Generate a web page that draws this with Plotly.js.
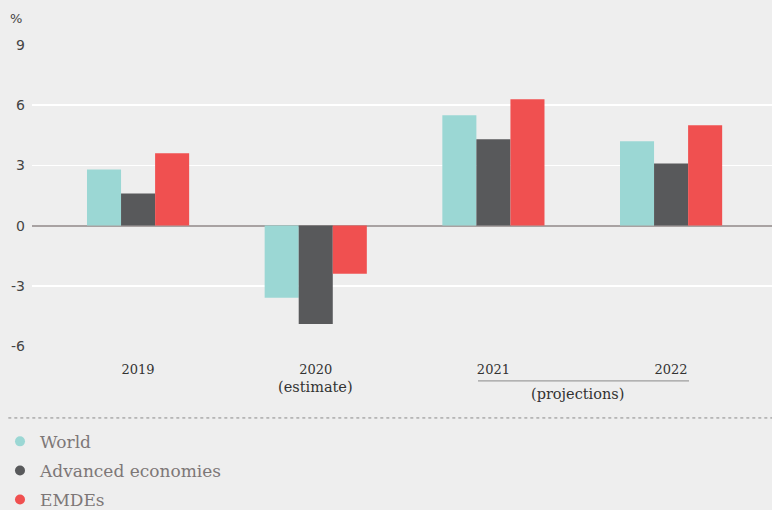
<!DOCTYPE html>
<html>
<head>
<meta charset="utf-8">
<script src="https://cdn.plot.ly/plotly-3.0.1.min.js"></script>
<style>
html,body{margin:0;padding:0;background:#eeeeee;}
#chart{width:772px;height:510px;}
</style>
</head>
<body>
<div id="chart"></div>
<script>
// Data
const categories = ["2019", "2020", "2021", "2022"];
const seriesNames = ["World", "Advanced economies", "EMDEs"];
const world = [2.8, -3.6, 5.5, 4.2];
const advanced = [1.6, -4.9, 4.3, 3.1];
const emdes = [3.6, -2.4, 6.3, 5.0];
const yTicks = [-6, -3, 0, 3, 6, 9];
const yTickText = ["-6", "-3", "0", "3", "6", "9"];
const colors = ["#9bd7d4", "#58595b", "#f05050"];
const values = [world, advanced, emdes];

const serif = "DejaVu Serif, Liberation Serif, serif";

const traces = values.map((v, i) => ({
  type: "bar",
  x: [0, 1, 2, 3],
  y: v,
  name: seriesNames[i],
  marker: {color: colors[i]},
  showlegend: false,
  hoverinfo: "y"
}));

seriesNames.forEach((n, i) => {
  traces.push({
    type: "scatter",
    mode: "markers",
    x: [null],
    y: [null],
    name: n,
    legendgroup: "g" + i,
    marker: {color: colors[i], size: 10, symbol: "circle"},
    showlegend: true
  });
});

const layout = {
  width: 772,
  height: 510,
  paper_bgcolor: "#eeeeee",
  plot_bgcolor: "#eeeeee",
  margin: {l: 32, r: 0, t: 45, b: 164, autoexpand: false},
  barmode: "group",
  bargap: 0.425,
  bargroupgap: 0,
  showlegend: true,
  legend: {
    xref: "container", yref: "container",
    x: 0.0, y: 0.169, xanchor: "left", yanchor: "top",
    orientation: "v",
    font: {family: serif, size: 17, color: "#7d7777"},
    bgcolor: "rgba(0,0,0,0)",
    tracegroupgap: 4,
    itemclick: false
  },
  xaxis: {
    type: "linear",
    range: [-0.597, 3.568],
    tickmode: "array",
    tickvals: [0, 1, 2, 3],
    ticktext: categories,
    showgrid: false,
    zeroline: false,
    showline: false,
    ticks: "",
    ticklabelstandoff: 14,
    tickfont: {family: serif, size: 13, color: "#333333"}
  },
  yaxis: {
    range: [-6, 9],
    tickmode: "array",
    tickvals: yTicks,
    ticktext: yTickText,
    showgrid: true,
    gridcolor: "#ffffff",
    gridwidth: 1.5,
    zeroline: true,
    zerolinecolor: "#a8a2a2",
    zerolinewidth: 2,
    ticks: "",
    ticklabelstandoff: 6,
    tickfont: {family: "DejaVu Sans, Open Sans, sans-serif", size: 14, color: "#444444"}
  },
  shapes: [
    {type: "line", xref: "paper", yref: "paper",
     x0: (478 - 32) / 740, x1: (689 - 32) / 740, y0: -0.116, y1: -0.116,
     line: {color: "#8a8a8a", width: 1}},
    {type: "line", xref: "paper", yref: "paper",
     x0: -0.032, x1: 1, y0: -0.239, y1: -0.239,
     line: {color: "#8a8a8a", width: 1, dash: "dot"}}
  ],
  annotations: [
    {text: "(estimate)", xref: "x", yref: "paper",
     x: 1, y: -0.136, xanchor: "center", yanchor: "middle",
     showarrow: false, font: {family: serif, size: 14.5, color: "#333333"}},
    {text: "(projections)", xref: "paper", yref: "paper",
     x: (577 - 32) / 740, y: -0.159, xanchor: "center", yanchor: "middle",
     showarrow: false, font: {family: serif, size: 14.5, color: "#333333"}},
    {text: "%", xref: "paper", yref: "paper",
     x: -0.032, y: 1.087, xanchor: "left", yanchor: "middle",
     showarrow: false, font: {family: "DejaVu Sans, sans-serif", size: 13, color: "#444444"}}
  ]
};

Plotly.newPlot("chart", traces, layout, {displayModeBar: false, staticPlot: true});
</script>
</body>
</html>
